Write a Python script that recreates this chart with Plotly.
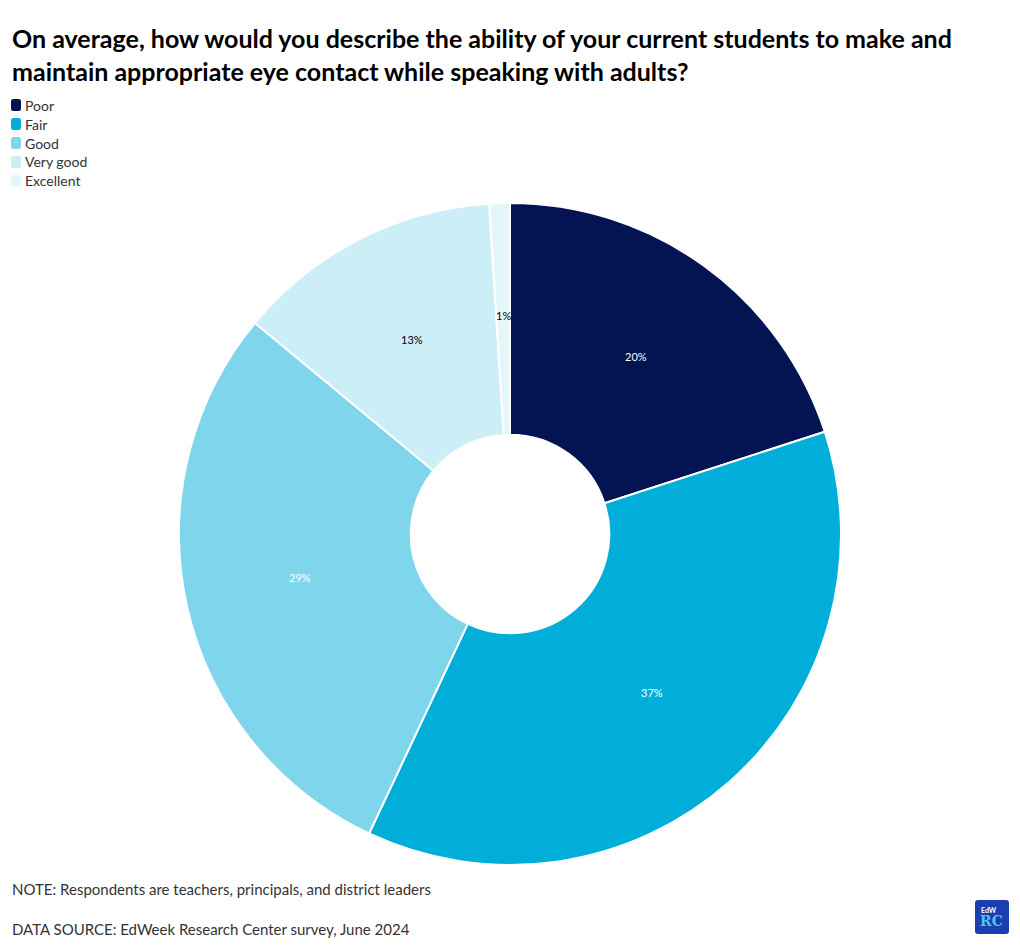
import math
import plotly.graph_objects as go

categories = ["Poor", "Fair", "Good", "Very good", "Excellent"]
values = [20, 37, 29, 13, 1]
colors = ["#041452", "#00AEDA", "#7FD5EC", "#CCEEF7", "#E5F6FB"]
text_colors = ["#FFFFFF", "#FFFFFF", "#FFFFFF", "#000000", "#000000"]

title = ("<b>On average, how would you describe the ability of your current students to make and<br>"
         "maintain appropriate eye contact while speaking with adults?</b>")
note = "NOTE: Respondents are teachers, principals, and district leaders"
source = "DATA SOURCE: EdWeek Research Center survey, June 2024"

OFF = 8  # page body margin
W, H = 1020 - 2 * OFF, 949 - 2 * OFF
FONT = "Lato, sans-serif"


def px(x):
    return (x - OFF) / W


def py(y):
    return 1 - (y - OFF) / H


def rounded_rect(x0, y0, x1, y1, rr):
    x0, x1, y0, y1 = x0 - OFF, x1 - OFF, y0 - OFF, y1 - OFF
    return (f"M {x0 + rr},{y0} L {x1 - rr},{y0} Q {x1},{y0} {x1},{y0 + rr} "
            f"L {x1},{y1 - rr} Q {x1},{y1} {x1 - rr},{y1} "
            f"L {x0 + rr},{y1} Q {x0},{y1} {x0},{y1 - rr} "
            f"L {x0},{y0 + rr} Q {x0},{y0} {x0 + rr},{y0} Z")


cx, cy, r = 510, 534, 331
hole = 0.3
total = sum(values)

fig = go.Figure(go.Pie(
    labels=categories,
    values=values,
    sort=False,
    direction="clockwise",
    rotation=0,
    hole=hole,
    marker=dict(colors=colors, line=dict(color="#FFFFFF", width=2)),
    textinfo="none",
    showlegend=False,
    hoverinfo="label+percent",
    domain=dict(x=[px(cx - r), px(cx + r)], y=[py(cy + r), py(cy - r)]),
))

annotations = [
    dict(text=title, x=px(10), y=py(21), xref="paper", yref="paper", xanchor="left", yanchor="top",
         align="left", showarrow=False, font=dict(size=25, color="#000000", family=FONT)),
    dict(text=note, x=px(10), y=py(889), xref="paper", yref="paper", xanchor="left", yanchor="middle",
         align="left", showarrow=False, font=dict(size=15, color="#333333", family=FONT)),
    dict(text=source, x=px(10), y=py(929), xref="paper", yref="paper", xanchor="left", yanchor="middle",
         align="left", showarrow=False, font=dict(size=15, color="#333333", family=FONT)),
    dict(text="<b>EdW</b>", x=px(979), y=py(910), xref="paper", yref="paper",
         xanchor="left", yanchor="middle", showarrow=False, font=dict(size=7, color="#FFFFFF", family=FONT)),
    dict(text="<b>RC</b>", x=px(978), y=py(921), xref="paper", yref="paper",
         xanchor="left", yanchor="middle", showarrow=False,
         font=dict(size=14, color="#4FC3F7", family="DejaVu Serif, serif")),
]

# slice labels at ring mid-radius, computed from the data
cum = 0
for v, tc in zip(values, text_colors):
    mid = (cum + v / 2) / total
    cum += v
    ang = 2 * math.pi * mid
    rl = r * (1 + hole) / 2
    lx = cx + rl * math.sin(ang)
    ly = cy - rl * math.cos(ang) - 3
    annotations.append(dict(text=f"{round(100 * v / total)}%", x=px(lx), y=py(ly), xref="paper", yref="paper",
                            xanchor="center", yanchor="middle",
                            showarrow=False, font=dict(size=11, color=tc, family=FONT)))

shapes = [
    dict(type="path", xref="x", yref="y", path=rounded_rect(975, 900, 1009, 934, 3),
         fillcolor="#1B3FAE", line=dict(width=0), layer="below"),
]

# custom legend
for i, (cat, col) in enumerate(zip(categories, colors)):
    yc = 105 + 19 * i
    shapes.append(dict(type="path", xref="x", yref="y", path=rounded_rect(11, yc - 6, 21, yc + 6, 2.5),
                       fillcolor=col, line=dict(width=0)))
    annotations.append(dict(text=cat, x=px(23), y=py(yc), xref="paper", yref="paper", xanchor="left",
                            yanchor="middle", showarrow=False, font=dict(size=14, color="#333333", family=FONT)))

fig.update_layout(
    width=W, height=H,
    margin=dict(l=0, r=0, t=0, b=0),
    paper_bgcolor="#FFFFFF",
    plot_bgcolor="rgba(0,0,0,0)",
    font=dict(family=FONT, color="#333333"),
    showlegend=False,
    xaxis=dict(range=[0, W], domain=[0, 1], visible=False, fixedrange=True),
    yaxis=dict(range=[H, 0], domain=[0, 1], visible=False, fixedrange=True),
    annotations=annotations,
    shapes=shapes,
)

fig.write_html("out.html")
